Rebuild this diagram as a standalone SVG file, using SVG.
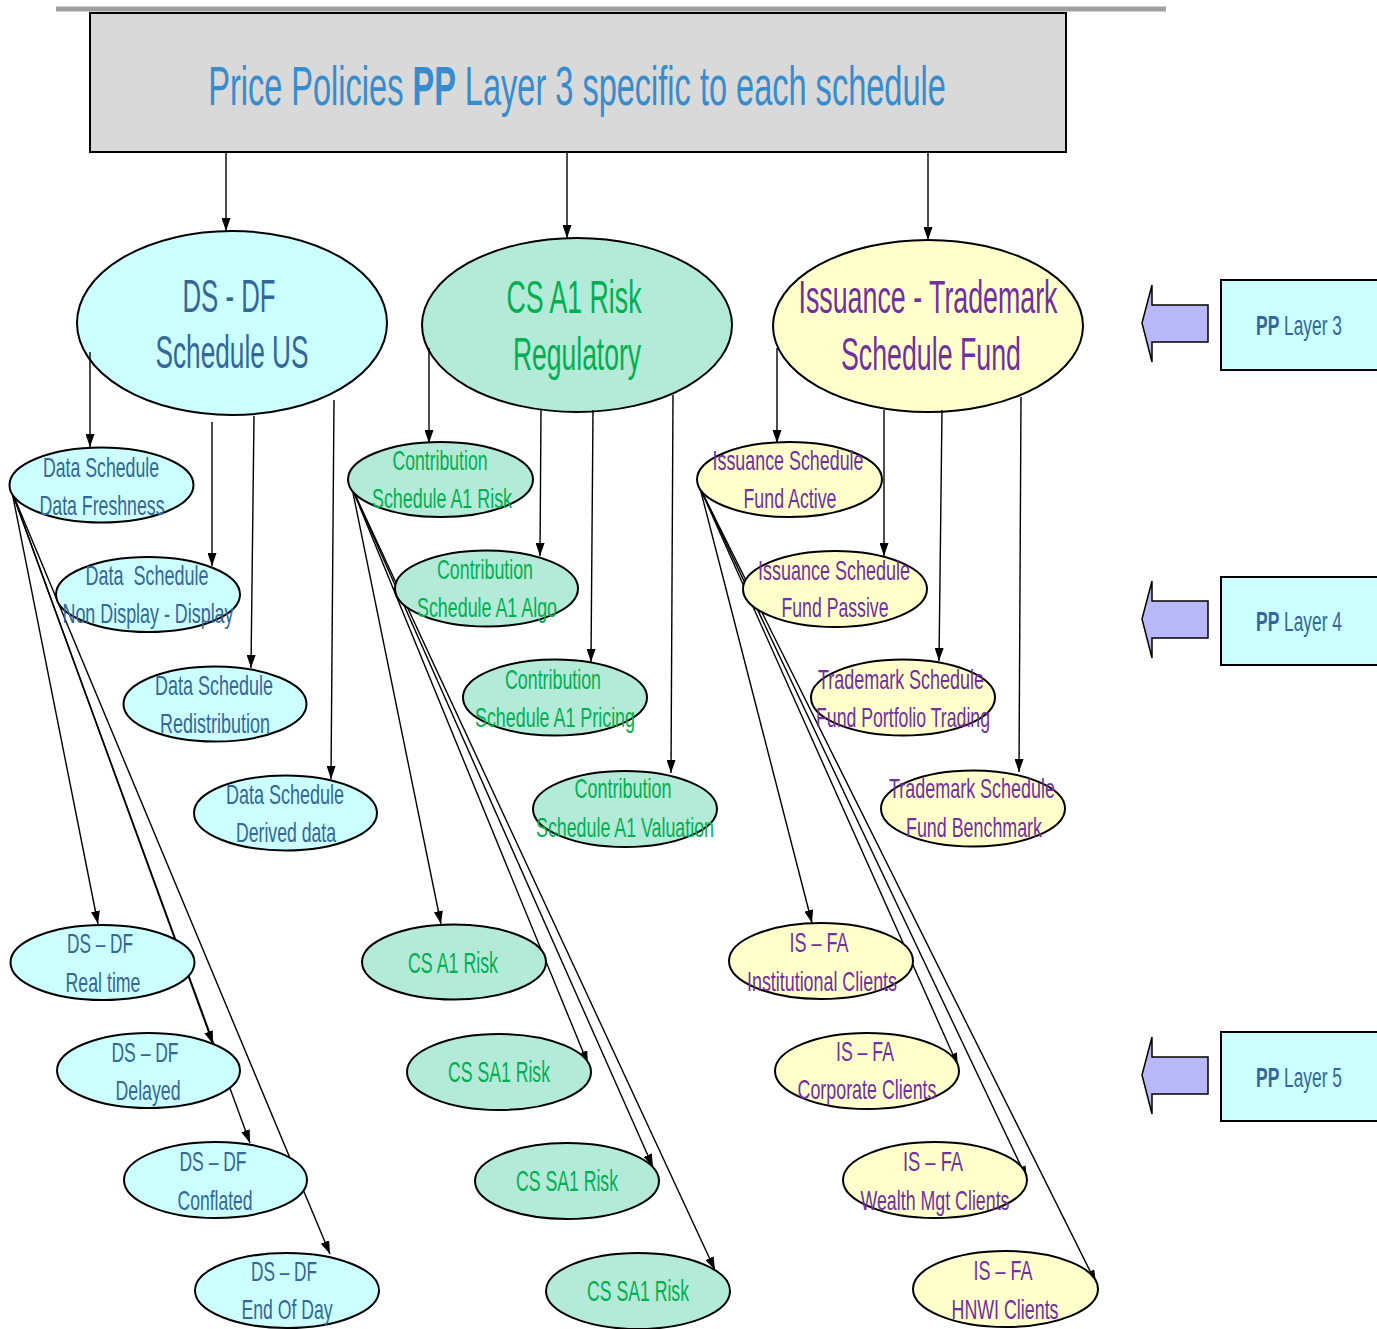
<svg xmlns="http://www.w3.org/2000/svg" width="1377" height="1329" viewBox="0 0 1377 1329">
<style>
text{font-family:"Liberation Sans",Arial,sans-serif;text-anchor:middle}
ellipse{stroke:#000;stroke-width:2}
.ds ellipse{fill:#ccffff}
.ds text{fill:#336699}
.cs ellipse{fill:#b3ead8}
.cs text{fill:#00b050}
.is ellipse{fill:#ffffcc}
.is text{fill:#7030a0}
.big text{font-size:47px}
.sm text{font-size:28px}
.one text{font-size:30px}
.conn line{stroke:#000;stroke-width:1.4;marker-end:url(#ah)}
.layer rect{fill:#ccffff;stroke:#000;stroke-width:2}
.layer text{fill:#336699;font-size:28px}
.barrow{fill:#b8b8f8;stroke:#000;stroke-width:1.5}
</style>
<defs>
<marker id="ah" markerUnits="userSpaceOnUse" markerWidth="14" markerHeight="9" refX="13" refY="4.5" orient="auto">
<path d="M0,0 L13,4.5 L0,9 z" fill="#000"/>
</marker>
</defs>
<rect width="1377" height="1329" fill="#fff"/>
<line x1="56" y1="9" x2="1166" y2="9" stroke="#a0a0a0" stroke-width="5"/>
<g id="title">
<rect x="90" y="13" width="976" height="139" fill="#d9d9d9" stroke="#000" stroke-width="2"/>
<text transform="translate(577,105) scale(0.581,1)" font-size="56" fill="#378ccd">Price Policies <tspan font-weight="bold">PP</tspan> Layer 3 specific to each schedule</text>
</g>
<g id="ds-df-schedule-us" class="ds big">
<ellipse cx="232" cy="323" rx="155" ry="92"/>
<text x="229" y="312" textLength="93" lengthAdjust="spacingAndGlyphs">DS - DF</text>
<text x="232" y="368" textLength="153" lengthAdjust="spacingAndGlyphs">Schedule US</text>
</g>
<g id="cs-a1-risk-regulatory" class="cs big">
<ellipse cx="577" cy="325" rx="155" ry="87"/>
<text x="574" y="313" textLength="135" lengthAdjust="spacingAndGlyphs">CS A1 Risk</text>
<text x="577" y="370" textLength="128" lengthAdjust="spacingAndGlyphs">Regulatory</text>
</g>
<g id="issuance-trademark" class="is big">
<ellipse cx="928" cy="326" rx="155" ry="86"/>
<text x="928" y="313" textLength="259" lengthAdjust="spacingAndGlyphs">Issuance - Trademark</text>
<text x="931" y="370" textLength="180" lengthAdjust="spacingAndGlyphs">Schedule Fund</text>
</g>
<g id="connectors" class="conn">
<line x1="226" y1="152" x2="226" y2="231"/>
<line x1="567" y1="152" x2="567" y2="238"/>
<line x1="928" y1="152" x2="928" y2="240"/>
<line x1="90" y1="352" x2="90" y2="447"/>
<line x1="212" y1="422" x2="212" y2="566"/>
<line x1="254" y1="416" x2="251" y2="668"/>
<line x1="334" y1="400" x2="331" y2="779"/>
<line x1="12" y1="492" x2="98" y2="924"/>
<line x1="12" y1="492" x2="213" y2="1044"/>
<line x1="12" y1="492" x2="250" y2="1143"/>
<line x1="12" y1="492" x2="330" y2="1254"/>
<line x1="429" y1="348" x2="429" y2="443"/>
<line x1="541" y1="410" x2="540" y2="556"/>
<line x1="593" y1="410" x2="591" y2="662"/>
<line x1="673" y1="395" x2="671" y2="773"/>
<line x1="352" y1="488" x2="441" y2="924"/>
<line x1="352" y1="488" x2="588" y2="1064"/>
<line x1="352" y1="488" x2="653" y2="1167"/>
<line x1="352" y1="488" x2="715" y2="1270"/>
<line x1="777" y1="348" x2="777" y2="443"/>
<line x1="884" y1="410" x2="884" y2="556"/>
<line x1="942" y1="410" x2="939" y2="661"/>
<line x1="1021" y1="397" x2="1019" y2="772"/>
<line x1="700" y1="488" x2="812" y2="923"/>
<line x1="700" y1="488" x2="958" y2="1066"/>
<line x1="700" y1="488" x2="1027" y2="1179"/>
<line x1="700" y1="488" x2="1096" y2="1283"/>
</g>
<g id="data-freshness" class="ds sm">
<ellipse cx="101.5" cy="485" rx="92" ry="37.5"/>
<text x="101" y="477" textLength="116" lengthAdjust="spacingAndGlyphs">Data Schedule</text>
<text x="102" y="515" textLength="125" lengthAdjust="spacingAndGlyphs">Data Freshness</text>
</g>
<g id="non-display" class="ds sm">
<ellipse cx="148" cy="594.5" rx="92" ry="37.5"/>
<text x="147" y="585" textLength="123" lengthAdjust="spacingAndGlyphs" style="white-space:pre">Data  Schedule</text>
<text x="148" y="623" textLength="171" lengthAdjust="spacingAndGlyphs">Non Display - Display</text>
</g>
<g id="redistribution" class="ds sm">
<ellipse cx="215" cy="704" rx="91.5" ry="37.5"/>
<text x="214" y="695" textLength="118" lengthAdjust="spacingAndGlyphs">Data Schedule</text>
<text x="215" y="733" textLength="110" lengthAdjust="spacingAndGlyphs">Redistribution</text>
</g>
<g id="derived-data" class="ds sm">
<ellipse cx="285.5" cy="813" rx="91.5" ry="37.5"/>
<text x="285" y="804" textLength="118" lengthAdjust="spacingAndGlyphs">Data Schedule</text>
<text x="286" y="842" textLength="100" lengthAdjust="spacingAndGlyphs">Derived data</text>
</g>
<g id="ds-df-real-time" class="ds sm">
<ellipse cx="102.5" cy="962.5" rx="92" ry="37.5"/>
<text x="100" y="953" textLength="66" lengthAdjust="spacingAndGlyphs">DS – DF</text>
<text x="103" y="992" textLength="75" lengthAdjust="spacingAndGlyphs">Real time</text>
</g>
<g id="ds-df-delayed" class="ds sm">
<ellipse cx="148.5" cy="1070.5" rx="91.5" ry="37.5"/>
<text x="145" y="1062" textLength="67" lengthAdjust="spacingAndGlyphs">DS – DF</text>
<text x="148" y="1100" textLength="65" lengthAdjust="spacingAndGlyphs">Delayed</text>
</g>
<g id="ds-df-conflated" class="ds sm">
<ellipse cx="215.5" cy="1180" rx="91.5" ry="38"/>
<text x="213" y="1171" textLength="67" lengthAdjust="spacingAndGlyphs">DS – DF</text>
<text x="215" y="1210" textLength="75" lengthAdjust="spacingAndGlyphs">Conflated</text>
</g>
<g id="ds-df-end-of-day" class="ds sm">
<ellipse cx="287" cy="1290.5" rx="92" ry="37.5"/>
<text x="284" y="1281" textLength="66" lengthAdjust="spacingAndGlyphs">DS – DF</text>
<text x="287" y="1319" textLength="91" lengthAdjust="spacingAndGlyphs">End Of Day</text>
</g>
<g id="contribution-risk" class="cs sm">
<ellipse cx="440.5" cy="479.5" rx="92.5" ry="37.5"/>
<text x="440" y="470" textLength="95" lengthAdjust="spacingAndGlyphs">Contribution</text>
<text x="442" y="508" textLength="140" lengthAdjust="spacingAndGlyphs">Schedule A1 Risk</text>
</g>
<g id="contribution-algo" class="cs sm">
<ellipse cx="486.5" cy="588.5" rx="91.5" ry="38"/>
<text x="485" y="579" textLength="96" lengthAdjust="spacingAndGlyphs">Contribution</text>
<text x="487" y="617" textLength="140" lengthAdjust="spacingAndGlyphs">Schedule A1 Algo</text>
</g>
<g id="contribution-pricing" class="cs sm">
<ellipse cx="555" cy="697.5" rx="92" ry="38"/>
<text x="553" y="689" textLength="96" lengthAdjust="spacingAndGlyphs">Contribution</text>
<text x="555" y="727" textLength="160" lengthAdjust="spacingAndGlyphs">Schedule A1 Pricing</text>
</g>
<g id="contribution-valuation" class="cs sm">
<ellipse cx="625" cy="809" rx="92" ry="38"/>
<text x="623" y="798" textLength="97" lengthAdjust="spacingAndGlyphs">Contribution</text>
<text x="625" y="837" textLength="178" lengthAdjust="spacingAndGlyphs">Schedule A1 Valuation</text>
</g>
<g id="cs-a1-risk" class="cs one">
<ellipse cx="454" cy="962" rx="92" ry="37.5"/>
<text x="453" y="973" textLength="90" lengthAdjust="spacingAndGlyphs">CS A1 Risk</text>
</g>
<g id="cs-sa1-risk-1" class="cs one">
<ellipse cx="499" cy="1072" rx="92" ry="38"/>
<text x="499" y="1082" textLength="102" lengthAdjust="spacingAndGlyphs">CS SA1 Risk</text>
</g>
<g id="cs-sa1-risk-2" class="cs one">
<ellipse cx="567" cy="1181" rx="92" ry="38"/>
<text x="567" y="1191" textLength="102" lengthAdjust="spacingAndGlyphs">CS SA1 Risk</text>
</g>
<g id="cs-sa1-risk-3" class="cs one">
<ellipse cx="638" cy="1291" rx="92" ry="38"/>
<text x="638" y="1301" textLength="102" lengthAdjust="spacingAndGlyphs">CS SA1 Risk</text>
</g>
<g id="fund-active" class="is sm">
<ellipse cx="789.5" cy="479.5" rx="92.5" ry="37.5"/>
<text x="788" y="470" textLength="151" lengthAdjust="spacingAndGlyphs">Issuance Schedule</text>
<text x="790" y="508" textLength="93" lengthAdjust="spacingAndGlyphs">Fund Active</text>
</g>
<g id="fund-passive" class="is sm">
<ellipse cx="835" cy="589" rx="92" ry="38"/>
<text x="834" y="580" textLength="152" lengthAdjust="spacingAndGlyphs">Issuance Schedule</text>
<text x="835" y="617" textLength="107" lengthAdjust="spacingAndGlyphs">Fund Passive</text>
</g>
<g id="fund-portfolio-trading" class="is sm">
<ellipse cx="903" cy="697.5" rx="92" ry="38"/>
<text x="901" y="689" textLength="166" lengthAdjust="spacingAndGlyphs">Trademark Schedule</text>
<text x="903" y="727" textLength="174" lengthAdjust="spacingAndGlyphs">Fund Portfolio Trading</text>
</g>
<g id="fund-benchmark" class="is sm">
<ellipse cx="973" cy="808.5" rx="92" ry="38"/>
<text x="972" y="798" textLength="166" lengthAdjust="spacingAndGlyphs">Trademark Schedule</text>
<text x="974" y="837" textLength="136" lengthAdjust="spacingAndGlyphs">Fund Benchmark</text>
</g>
<g id="is-fa-institutional" class="is sm">
<ellipse cx="821" cy="961" rx="92" ry="38"/>
<text x="819" y="952" textLength="59" lengthAdjust="spacingAndGlyphs">IS – FA</text>
<text x="822" y="991" textLength="150" lengthAdjust="spacingAndGlyphs">Institutional Clients</text>
</g>
<g id="is-fa-corporate" class="is sm">
<ellipse cx="867" cy="1071" rx="92" ry="38"/>
<text x="865" y="1061" textLength="58" lengthAdjust="spacingAndGlyphs">IS – FA</text>
<text x="867" y="1099" textLength="139" lengthAdjust="spacingAndGlyphs">Corporate Clients</text>
</g>
<g id="is-fa-wealth" class="is sm">
<ellipse cx="935" cy="1180" rx="92" ry="38"/>
<text x="933" y="1171" textLength="60" lengthAdjust="spacingAndGlyphs">IS – FA</text>
<text x="935" y="1210" textLength="149" lengthAdjust="spacingAndGlyphs">Wealth Mgt Clients</text>
</g>
<g id="is-fa-hnwi" class="is sm">
<ellipse cx="1005.5" cy="1289" rx="92.5" ry="38"/>
<text x="1003" y="1280" textLength="59" lengthAdjust="spacingAndGlyphs">IS – FA</text>
<text x="1005" y="1319" textLength="107" lengthAdjust="spacingAndGlyphs">HNWI Clients</text>
</g>
<g id="pp-layer-3" class="layer">
<polygon class="barrow" points="1142,323 1152,285 1152,305 1208,305 1208,342 1152,342 1152,362"/>
<rect x="1221" y="280" width="160" height="90"/>
<text transform="translate(1299,335) scale(0.62,1)"><tspan font-weight="bold">PP</tspan> Layer 3</text>
</g>
<g id="pp-layer-4" class="layer">
<polygon class="barrow" transform="translate(0,296)" points="1142,323 1152,285 1152,305 1208,305 1208,342 1152,342 1152,362"/>
<rect x="1221" y="577" width="160" height="88"/>
<text transform="translate(1299,631) scale(0.62,1)"><tspan font-weight="bold">PP</tspan> Layer 4</text>
</g>
<g id="pp-layer-5" class="layer">
<polygon class="barrow" transform="translate(0,752)" points="1142,323 1152,285 1152,305 1208,305 1208,342 1152,342 1152,362"/>
<rect x="1221" y="1032" width="160" height="89"/>
<text transform="translate(1299,1087) scale(0.62,1)"><tspan font-weight="bold">PP</tspan> Layer 5</text>
</g>
</svg>
